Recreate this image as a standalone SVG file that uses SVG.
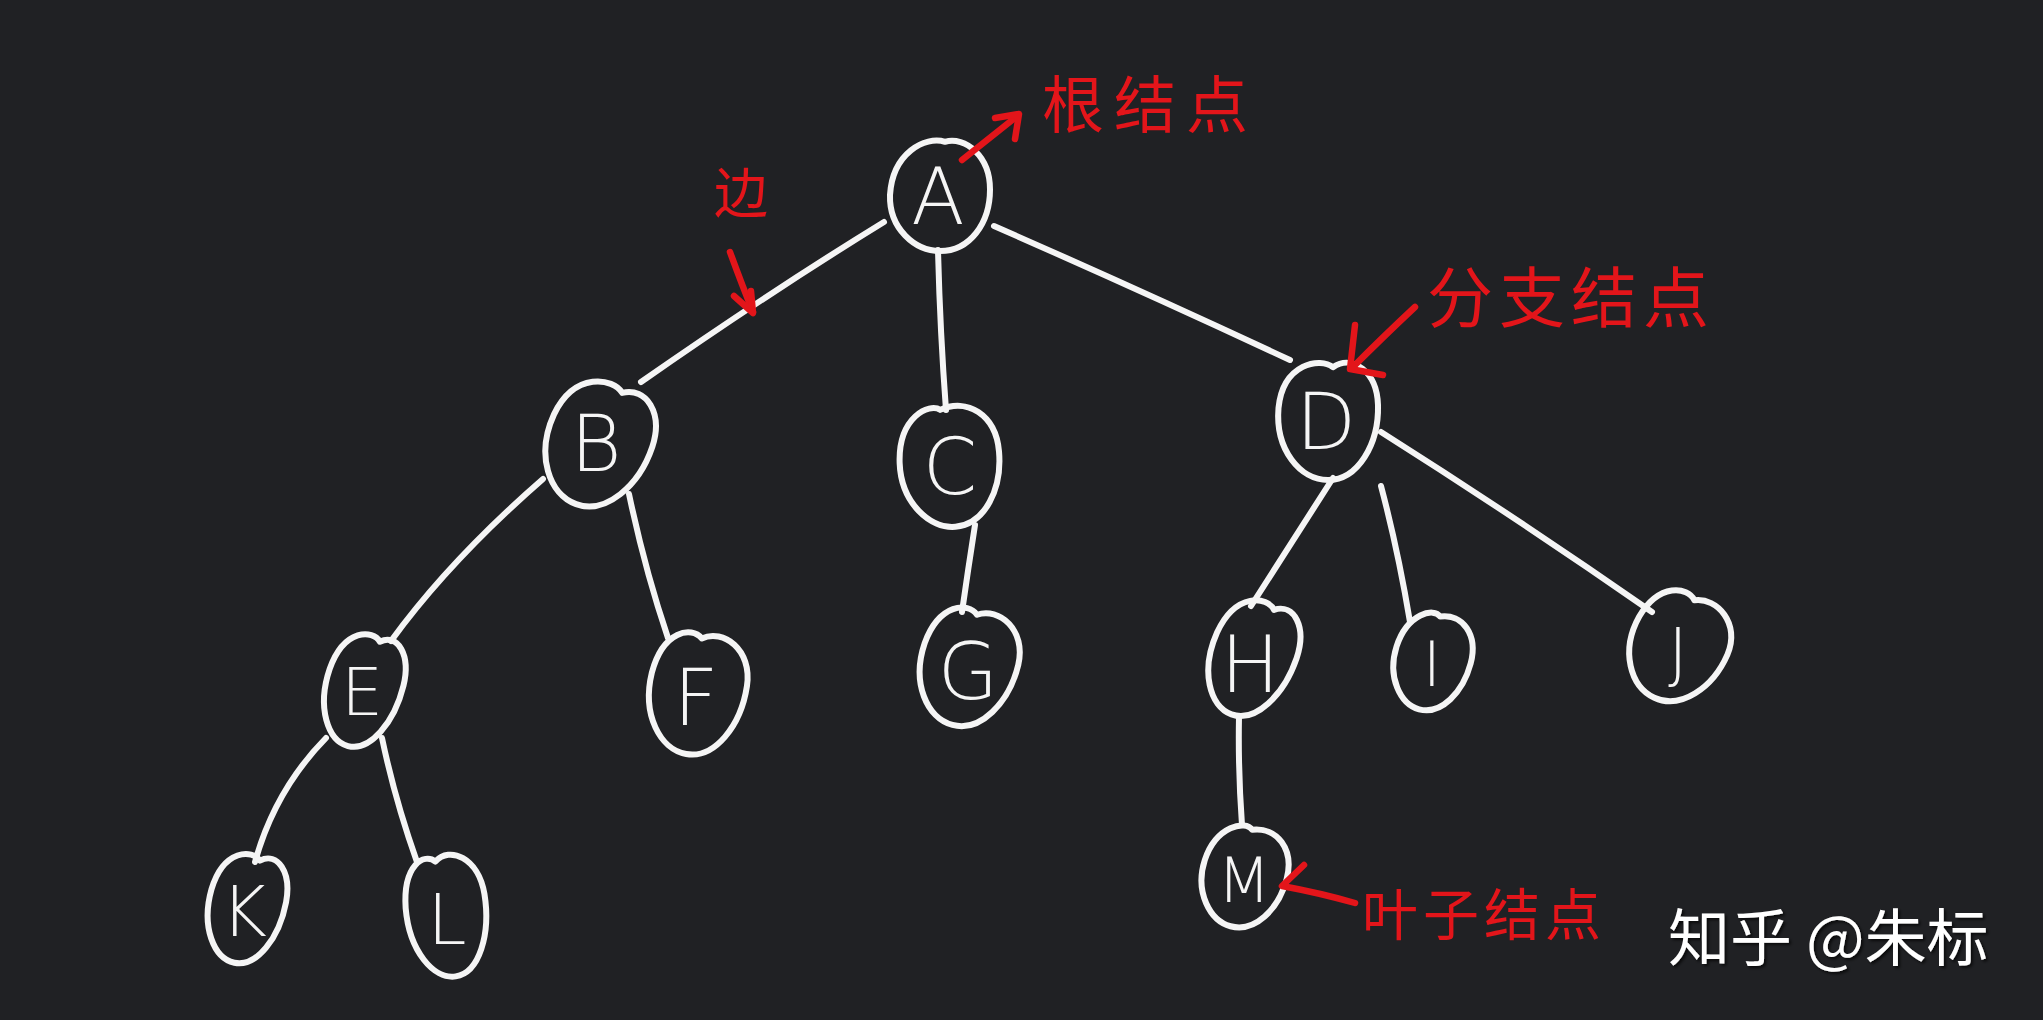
<svg xmlns="http://www.w3.org/2000/svg" width="2043" height="1020" viewBox="0 0 2043 1020">
<defs>
<style>
.nd{fill:none;stroke:#f5f5f5;stroke-width:6;stroke-linejoin:round;vector-effect:non-scaling-stroke}
.ed{fill:none;stroke:#f5f5f5;stroke-width:6;stroke-linecap:round}
.lb{fill:#f5f5f5;font-family:"DejaVu Sans",sans-serif;font-weight:200;font-size:78px;text-anchor:middle;dominant-baseline:central}
.rd{fill:none;stroke:#e3151a;stroke-width:6.5;stroke-linecap:round;stroke-linejoin:round}
.rt{fill:#e3151a;font-family:"Noto Sans CJK SC",sans-serif;font-weight:400;dominant-baseline:central}
.wm{fill:#ffffff;font-family:"Noto Sans CJK SC",sans-serif;font-weight:400;font-size:62px;dominant-baseline:central}
</style>
<filter id="sh" x="-10%" y="-20%" width="130%" height="150%"><feDropShadow dx="2" dy="2" stdDeviation="1.5" flood-color="#000" flood-opacity="0.7"/></filter>
</defs>
<rect width="2043" height="1020" fill="#202124"/>
<g id="connectors">
<path class="ed" d="M884,222 Q770,292 641,382"/>
<path class="ed" d="M938,250 Q940,330 946,410"/>
<path class="ed" d="M994,226 Q1140,290 1290,360"/>
<path class="ed" d="M543,479 Q450,560 391,641"/>
<path class="ed" d="M629,494 Q645,570 668,638"/>
<path class="ed" d="M975,525 Q968,570 962,612"/>
<path class="ed" d="M1333,478 Q1290,545 1251,606"/>
<path class="ed" d="M1381,486 Q1398,550 1410,622"/>
<path class="ed" d="M1381,432 Q1520,520 1652,612"/>
<path class="ed" d="M326,738 Q275,790 255,862"/>
<path class="ed" d="M382,738 Q395,800 417,862"/>
<path class="ed" d="M1239,717 Q1238,770 1242,825"/>
</g>
<g id="node-A"><path class="nd" transform="translate(940,195) scale(50,56)" d="M0.1,-0.95 C-0.3,-1.06 -0.95,-0.75 -1,0 C-1.02,0.6 -0.5,1.0 0,1 C0.6,1.0 1.0,0.5 1,-0.1 C1,-0.7 0.5,-1.05 0.1,-0.95 Z"/><text class="lb" x="938" y="197">A</text></g>
<g id="node-B"><path class="nd" transform="translate(598,444) rotate(20) scale(52,64)" d="M0.1,-0.88 C-0.15,-1.05 -0.9,-0.95 -0.99,-0.2 C-1.06,0.5 -0.55,1.0 0,1 C0.6,1.0 1.02,0.4 1,-0.25 C0.98,-0.8 0.5,-1.1 0.1,-0.88 Z"/><text class="lb" x="596" y="444">B</text></g>
<g id="node-C"><path class="nd" transform="translate(950,465) rotate(-5) scale(50,62)" d="M-0.1,-0.9 C-0.3,-1.03 -0.95,-0.85 -1,-0.1 C-1.04,0.55 -0.5,1.0 0,1 C0.6,1.0 1.0,0.45 1,-0.15 C1,-0.75 0.45,-1.06 -0.1,-0.9 Z"/><text class="lb" x="950" y="467">C</text></g>
<g id="node-D"><path class="nd" transform="translate(1328,420) scale(50,60)" d="M0.1,-0.88 C-0.15,-1.05 -0.9,-0.95 -0.99,-0.2 C-1.06,0.5 -0.55,1.0 0,1 C0.6,1.0 1.02,0.4 1,-0.25 C0.98,-0.8 0.5,-1.1 0.1,-0.88 Z"/><text class="lb" x="1326" y="422">D</text></g>
<g id="node-E"><path class="nd" transform="translate(363,690) rotate(15) scale(38,58)" d="M0.1,-0.88 C-0.15,-1.05 -0.9,-0.95 -0.99,-0.2 C-1.06,0.5 -0.55,1.0 0,1 C0.6,1.0 1.02,0.4 1,-0.25 C0.98,-0.8 0.5,-1.1 0.1,-0.88 Z"/><text class="lb" x="362" y="692" style="font-size:66px">E</text></g>
<g id="node-F"><path class="nd" transform="translate(697,693) rotate(10) scale(48,62)" d="M-0.1,-0.88 C-0.35,-1.05 -0.92,-0.9 -1,-0.2 C-1.06,0.5 -0.55,1.0 0,1 C0.6,1.0 1.02,0.4 1,-0.25 C0.98,-0.85 0.3,-1.1 -0.1,-0.88 Z"/><text class="lb" x="696" y="698">F</text></g>
<g id="node-G"><path class="nd" transform="translate(968,667) rotate(15) scale(48,60)" d="M-0.1,-0.88 C-0.35,-1.05 -0.92,-0.9 -1,-0.2 C-1.06,0.5 -0.55,1.0 0,1 C0.6,1.0 1.02,0.4 1,-0.25 C0.98,-0.85 0.3,-1.1 -0.1,-0.88 Z"/><text class="lb" x="968" y="672">G</text></g>
<g id="node-H"><path class="nd" transform="translate(1252,658) rotate(20) scale(42,60)" d="M0.1,-0.88 C-0.15,-1.05 -0.9,-0.95 -0.99,-0.2 C-1.06,0.5 -0.55,1.0 0,1 C0.6,1.0 1.02,0.4 1,-0.25 C0.98,-0.8 0.5,-1.1 0.1,-0.88 Z"/><text class="lb" x="1250" y="665">H</text></g>
<g id="node-I"><path class="nd" transform="translate(1432,661) rotate(15) scale(38,50)" d="M-0.1,-0.9 C-0.3,-1.05 -0.95,-0.8 -1,-0.1 C-1.04,0.55 -0.5,1.0 0,1 C0.6,1.0 1.0,0.45 1,-0.15 C1,-0.75 0.45,-1.08 -0.1,-0.9 Z"/><text class="lb" x="1432" y="664" style="font-size:62px">I</text></g>
<g id="node-J"><path class="nd" transform="translate(1678,647) rotate(25) scale(48,56)" d="M-0.1,-0.88 C-0.35,-1.05 -0.92,-0.9 -1,-0.2 C-1.06,0.5 -0.55,1.0 0,1 C0.6,1.0 1.02,0.4 1,-0.25 C0.98,-0.85 0.3,-1.1 -0.1,-0.88 Z"/><text class="lb" x="1678" y="652" style="font-size:66px">J</text></g>
<g id="node-K"><path class="nd" transform="translate(246,908) rotate(12) scale(38,56)" d="M0.1,-0.88 C-0.15,-1.05 -0.9,-0.95 -0.99,-0.2 C-1.06,0.5 -0.55,1.0 0,1 C0.6,1.0 1.02,0.4 1,-0.25 C0.98,-0.8 0.5,-1.1 0.1,-0.88 Z"/><text class="lb" x="244" y="912" style="font-size:70px">K</text></g>
<g id="node-L"><path class="nd" transform="translate(447,915) rotate(-8) scale(40,62)" d="M-0.1,-0.88 C-0.35,-1.05 -0.92,-0.9 -1,-0.2 C-1.06,0.5 -0.55,1.0 0,1 C0.6,1.0 1.02,0.4 1,-0.25 C0.98,-0.85 0.3,-1.1 -0.1,-0.88 Z"/><text class="lb" x="447" y="920" style="font-size:70px">L</text></g>
<g id="node-M"><path class="nd" transform="translate(1244,876) rotate(15) scale(42,52)" d="M-0.1,-0.9 C-0.3,-1.05 -0.95,-0.8 -1,-0.1 C-1.04,0.55 -0.5,1.0 0,1 C0.6,1.0 1.0,0.45 1,-0.15 C1,-0.75 0.45,-1.08 -0.1,-0.9 Z"/><text class="lb" x="1244" y="880" style="font-size:62px">M</text></g>
<g id="annotations">
<path class="rd" d="M962,160 L1016,117"/>
<path class="rd" d="M995,118 L1019,114 L1015,139"/>
<text class="rt" x="1042" y="101" style="font-size:62px;letter-spacing:10px">根结点</text>
<text class="rt" x="714" y="189" style="font-size:54px">边</text>
<path class="rd" d="M730,252 Q742,285 753,312"/>
<path class="rd" d="M734,296 L753,313 L751,291"/>
<text class="rt" x="1427" y="293" style="font-size:66px;letter-spacing:6px">分支结点</text>
<path class="rd" d="M1415,307 Q1385,335 1352,368"/>
<path class="rd" d="M1355,325 L1350,369 L1383,375"/>
<text class="rt" x="1362" y="910" style="font-size:56px;letter-spacing:5px">叶子结点</text>
<path class="rd" d="M1304,865 L1282,886 Q1320,893 1355,903"/>
</g>
<text class="wm" x="1668" y="934" filter="url(#sh)">知乎 @朱标</text>
</svg>
